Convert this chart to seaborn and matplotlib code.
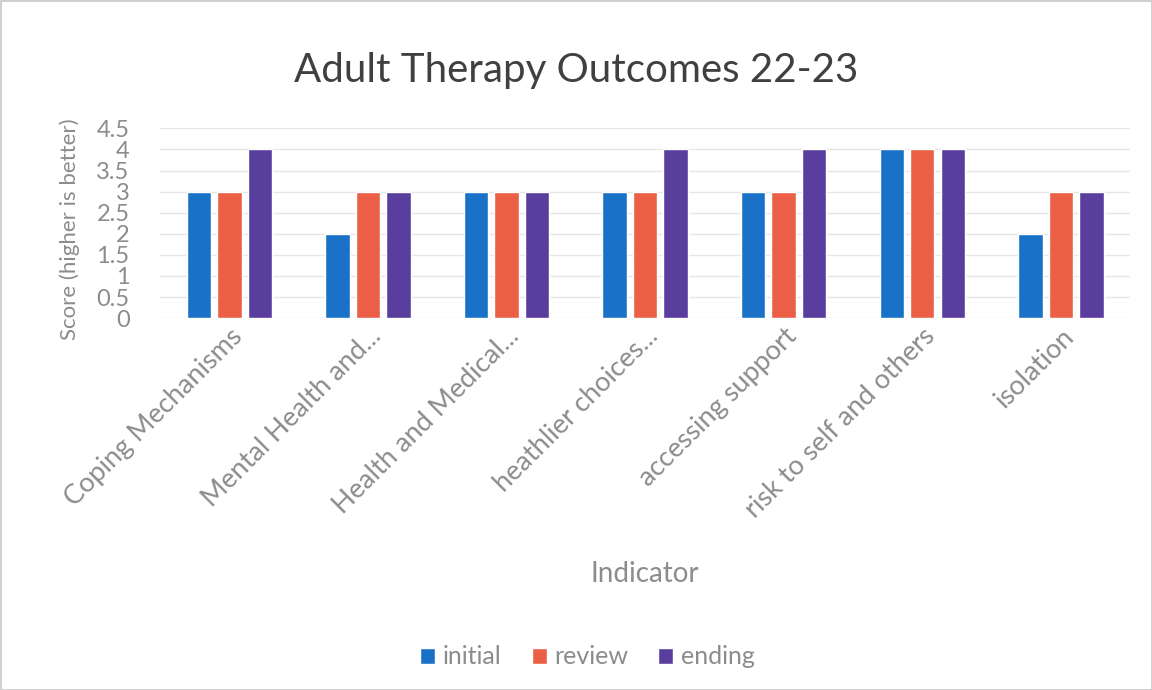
import pandas as pd
import matplotlib.pyplot as plt
import seaborn as sns

indicators = ["Coping Mechanisms", "Mental Health and...", "Health and Medical...",
              "heathlier choices...", "accessing support", "risk to self and others",
              "isolation"]
initial = [3, 2, 3, 3, 3, 4, 2]
review = [3, 3, 3, 3, 3, 4, 3]
ending = [4, 3, 3, 4, 4, 4, 3]
series = ["initial", "review", "ending"]
yticks = [0, 0.5, 1, 1.5, 2, 2.5, 3, 3.5, 4, 4.5]

df = pd.DataFrame({"Indicator": indicators, "initial": initial,
                   "review": review, "ending": ending})
df = df.melt(id_vars="Indicator", var_name="series", value_name="score")

sns.set_style("white")
plt.rcParams['font.family'] = ['Lato', 'DejaVu Sans']

fig = plt.figure(figsize=(11.52, 6.9), dpi=100)
fig.patch.set_edgecolor("#d0d0d0")
fig.patch.set_linewidth(2)
ax = fig.add_axes([0.139, 0.539, 0.842, 0.275])

colors = ["#1A72C8", "#EA5F45", "#5A3E9E"]
sns.barplot(data=df, x="Indicator", y="score", hue="series", hue_order=series,
            palette=colors, saturation=1, width=0.66, gap=0.2, ax=ax, legend=True)

ax.set_ylim(0, 4.5)
ax.set_yticks(yticks)
ax.set_yticklabels([f"{t:g}" for t in yticks], fontsize=17, color="#8c8c8c")
ax.yaxis.grid(True, color="#e6e6e6", linewidth=1)
ax.set_axisbelow(True)
for s in ax.spines.values():
    s.set_visible(False)
ax.tick_params(axis="x", length=0, pad=4)
ax.tick_params(axis="y", length=0, pad=22)
ax.set_xlim(-0.5, len(indicators) - 0.5)

plt.setp(ax.get_xticklabels(), rotation=45, ha="right", rotation_mode="anchor",
         fontsize=19.5, color="#8c8c8c")

ax.set_xlabel("Indicator", fontsize=20, color="#8c8c8c")
ax.xaxis.set_label_coords(0.5, -1.28)
ax.set_ylabel("Score (higher is better)", fontsize=16, color="#8c8c8c")
ax.yaxis.set_label_coords(-0.083, 0.47)

fig.suptitle("Adult Therapy Outcomes 22-23", fontsize=29, color="#404040", y=0.925)

handles, labels = ax.get_legend_handles_labels()
ax.legend_.remove()
fig.legend(handles, labels, loc="center", bbox_to_anchor=(0.51, 0.048), ncol=3,
           frameon=False, fontsize=18, labelcolor="#8c8c8c", handlelength=0.6,
           handleheight=0.6, handletextpad=0.3, columnspacing=1.2)

fig.savefig("out.png", dpi=100)
